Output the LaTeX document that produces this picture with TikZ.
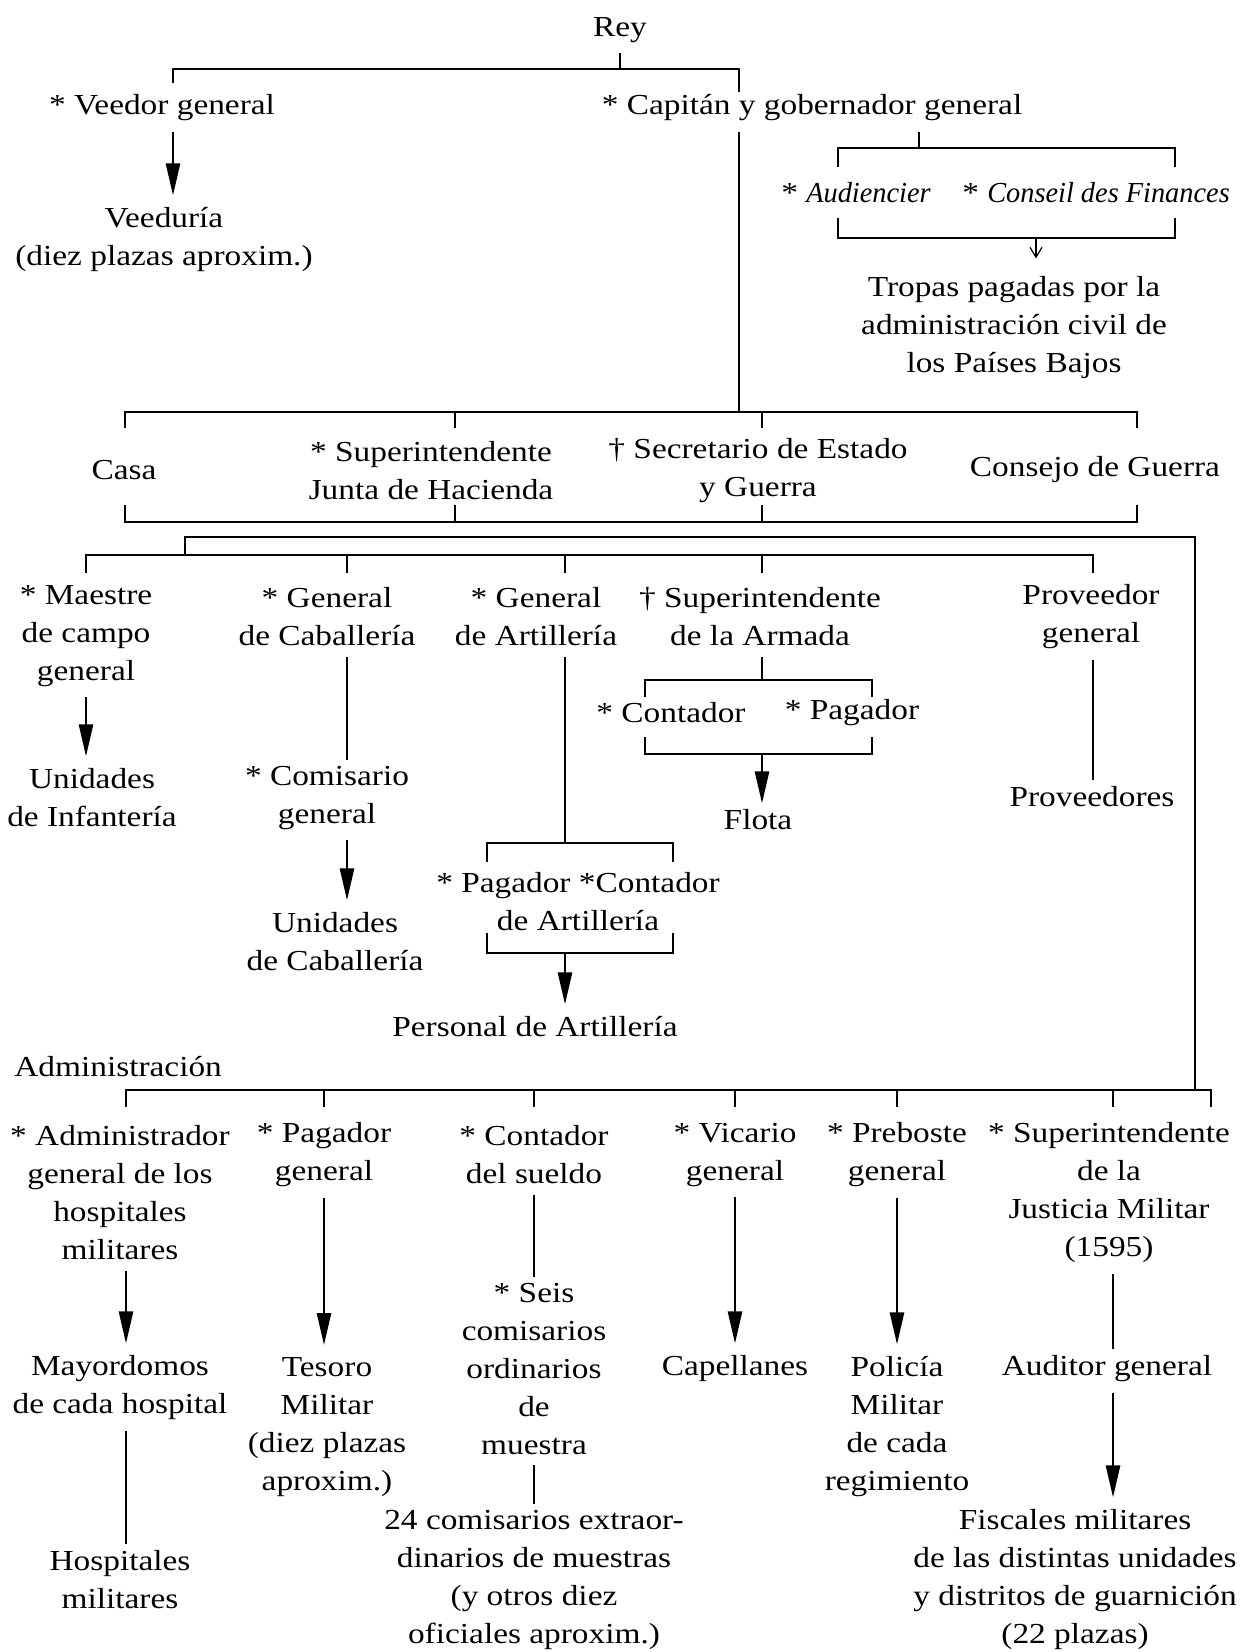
\documentclass[tikz,border=0pt]{standalone}
\usepackage{fontspec}
\setmainfont[FakeStretch=1.15]{Liberation Serif}
\usepackage{graphicx}
\usepackage{tikz}
\usetikzlibrary{arrows.meta}
\usetikzlibrary{calc}
\tikzset{
    office/.style={
        align=center,
        inner sep=1pt,
        font=\fontsize{14.5}{19}\selectfont
    },
    brk/.style={
        line width=1.3pt
    },
    tie/.style={
        brk,
        shorten <=4pt,
        shorten >=2pt
    },
    feed/.style={
        brk,
        -{Triangle[length=16pt, width=7pt]},
        shorten <=4pt,
        shorten >=5pt
    }
}
\newcommand{\narrowit}[1]{\scalebox{0.85}[1]{\textit{#1}}}

\begin{document}
\begin{tikzpicture}[x=0.5pt, y=-0.5pt]
    \useasboundingbox (0,0) rectangle (1242,1652);

    % Rey and first bracket
    \node[office] (rey) at (620,30) {Rey};
    \node[office] (veedor) at (162,108) {* Veedor general};
    \node[office] (capitan) at (812,108) {* Capitán y gobernador general};
    \node[office] (veeduria) at (164,240) {Veeduría\\(diez plazas aproxim.)};
    \coordinate (r0) at (620,69);
    \coordinate (r1) at (173,83);
    \coordinate (r2) at (739,92);
    \draw[brk, shorten <=4pt] (rey.south) -- (r0);
    \draw[brk] (r1) |- (r0) -| (r2);
    \draw[feed] (veedor.south -| r1) -- (veeduria.north -| r1);

    % Audiencier and Conseil des Finances
    \node[office] (audiencier) at (856,193) {* \narrowit{Audiencier}};
    \node[office] (conseil) at (1096,193) {* \narrowit{Conseil des Finances}};
    \node[office] (tropas) at (1014,328) {Tropas pagadas por la\\administración civil de\\los Países Bajos};
    \coordinate (a0) at (919,148);
    \coordinate (a1) at (838,167);
    \coordinate (a2) at (1175,167);
    \coordinate (a3) at (838,218);
    \coordinate (a4) at (1175,218);
    \coordinate (a5) at (1036,238);
    \draw[brk, shorten <=4pt] (capitan.south -| a0) -- (a0);
    \draw[brk] (a1) |- (a0) -| (a2);
    \draw[brk] (a3) |- (a5) -| (a4);
    \draw[line width=0.6pt, -{Straight Barb[length=5pt, width=6pt]}, shorten >=8pt] (a5) -- (a5 |- tropas.north);

    % Second level
    \node[office] (casa) at (124,470) {Casa};
    \node[office] (hacienda) at (431,471) {* Superintendente\\Junta de Hacienda};
    \node[office] (secretario) at (758,471) {† Secretario de Estado\\y Guerra};
    \node[office] (consejo) at (1095,470) {Consejo de Guerra};
    \coordinate (c0) at (739,412);
    \coordinate (c1) at (125,428);
    \coordinate (c2) at (455,428);
    \coordinate (c3) at (762,428);
    \coordinate (c4) at (1137,428);
    \draw[brk, shorten <=4pt] (capitan.south -| c0) -- (c0);
    \draw[brk] (c1) |- (c0) -| (c4);
    \draw[brk] (c2) -- (c2 |- c0);
    \draw[brk] (c3) -- (c3 |- c0);
    \coordinate (d0) at (640,522);
    \coordinate (d1) at (125,505);
    \coordinate (d2) at (455,505);
    \coordinate (d3) at (762,505);
    \coordinate (d4) at (1137,505);
    \draw[brk] (d1) |- (d0) -| (d4);
    \draw[brk] (d2) -- (d2 |- d0);
    \draw[brk] (d3) -- (d3 |- d0);

    % Outer line and third bracket
    \coordinate (e0) at (185,555);
    \coordinate (e1) at (1195,537);
    \coordinate (h0) at (1195,1090);
    \coordinate (f1) at (86,573);
    \coordinate (f2) at (347,573);
    \coordinate (f3) at (565,573);
    \coordinate (f4) at (762,573);
    \coordinate (f5) at (1093,573);
    \draw[brk] (e0) |- (e1) -- (h0);
    \draw[brk] (f1) |- (e0) -| (f5);
    \draw[brk] (f2) -- (f2 |- e0);
    \draw[brk] (f3) -- (f3 |- e0);
    \draw[brk] (f4) -- (f4 |- e0);

    % Third level
    \node[office] (maestre) at (86,636) {* Maestre\\de campo\\general};
    \node[office] (caballeria) at (327,617) {* General\\de Caballería};
    \node[office] (artilleria) at (536,617) {* General\\de Artillería};
    \node[office] (armada) at (760,617) {† Superintendente\\de la Armada};
    \node[office] (proveedor) at (1091,617) {Proveedor\\general};

    % Infantería
    \node[office] (infanteria) at (92,798) {Unidades\\de Infantería};
    \draw[feed] (maestre.south -| f1) -- (infanteria.north -| f1);

    % Caballería
    \node[office] (comisario) at (327,798) {* Comisario\\general};
    \node[office] (unicab) at (335,942) {Unidades\\de Caballería};
    \draw[tie] (caballeria.south -| f2) -- (comisario.north -| f2);
    \draw[feed] (comisario.south -| f2) -- (unicab.north -| f2);

    % Artillería
    \node[office] (pagart) at (578,902) {* Pagador *Contador\\de Artillería};
    \node[office] (personal) at (535,1027) {Personal de Artillería};
    \coordinate (p0) at (565,843);
    \coordinate (p1) at (487,862);
    \coordinate (p2) at (673,862);
    \coordinate (p3) at (487,933);
    \coordinate (p4) at (673,933);
    \coordinate (p5) at (565,953);
    \draw[brk, shorten <=4pt] (artilleria.south -| p0) -- (p0);
    \draw[brk] (p1) |- (p0) -| (p2);
    \draw[brk] (p3) |- (p5) -| (p4);
    \draw[feed, shorten <=0pt] (p5) -- (p5 |- personal.north);

    % Armada
    \node[office] (contador) at (671,713) {* Contador};
    \node[office] (pagador) at (852,713) {* Pagador};
    \node[office] (flota) at (758,820) {Flota};
    \coordinate (q0) at (762,680);
    \coordinate (q1) at (645,697);
    \coordinate (q2) at (872,697);
    \coordinate (q3) at (645,737);
    \coordinate (q4) at (872,737);
    \coordinate (q5) at (762,754);
    \draw[brk, shorten <=4pt] (armada.south -| q0) -- (q0);
    \draw[brk] (q1) |- (q0) -| (q2);
    \draw[brk] (q3) |- (q5) -| (q4);
    \draw[feed, shorten <=0pt, shorten >=2pt] (q5) -- (q5 |- flota.north);

    % Proveedores
    \node[office] (proveedores) at (1092,797) {Proveedores};
    \draw[tie] (proveedor.south -| f5) -- (proveedores.north -| f5);

    % Administración bracket
    \node[office, anchor=west] (admin) at (12,1067) {Administración};
    \coordinate (h1) at (126,1107);
    \coordinate (h2) at (324,1107);
    \coordinate (h3) at (534,1107);
    \coordinate (h4) at (735,1107);
    \coordinate (h5) at (897,1107);
    \coordinate (h6) at (1113,1107);
    \coordinate (h7) at (1211,1107);
    \draw[brk] (h1) |- (h0) -| (h7);
    \draw[brk] (h2) -- (h2 |- h0);
    \draw[brk] (h3) -- (h3 |- h0);
    \draw[brk] (h4) -- (h4 |- h0);
    \draw[brk] (h5) -- (h5 |- h0);
    \draw[brk] (h6) -- (h6 |- h0);

    % Administración offices
    \node[office] (administrador) at (120,1193) {* Administrador\\general de los\\hospitales\\militares};
    \node[office] (pagadorgen) at (324,1155) {* Pagador\\general};
    \node[office] (sueldo) at (534,1155) {* Contador\\del sueldo};
    \node[office] (vicario) at (735,1155) {* Vicario\\general};
    \node[office] (preboste) at (897,1155) {* Preboste\\general};
    \node[office] (justicia) at (1109,1193) {* Superintendente\\de la\\Justicia Militar\\(1595)};

    % Dependent posts
    \node[office] (mayordomos) at (120,1388) {Mayordomos\\de cada hospital};
    \node[office] (tesoro) at (327,1427) {Tesoro\\Militar\\(diez plazas\\aproxim.)};
    \node[office] (seis) at (534,1369) {* Seis\\comisarios\\ordinarios\\de\\muestra};
    \node[office] (capellanes) at (735,1369) {Capellanes};
    \node[office] (policia) at (897,1427) {Policía\\Militar\\de cada\\regimiento};
    \node[office] (auditor) at (1107,1369) {Auditor general};
    \node[office] (hospitales) at (120,1580) {Hospitales\\militares};
    \node[office] (extra) at (534,1580) {24 comisarios extraor-\\dinarios de muestras\\(y otros diez\\oficiales aproxim.)};
    \node[office] (fiscales) at (1075,1580) {Fiscales militares\\de las distintas unidades\\y distritos de guarnición\\(22 plazas)};

    \draw[feed] (administrador.south -| h1) -- (mayordomos.north -| h1);
    \draw[feed] (pagadorgen.south -| h2) -- (tesoro.north -| h2);
    \draw[tie] (sueldo.south -| h3) -- (seis.north -| h3);
    \draw[feed] (vicario.south -| h4) -- (capellanes.north -| h4);
    \draw[feed] (preboste.south -| h5) -- (policia.north -| h5);
    \draw[tie] (justicia.south -| h6) -- (auditor.north -| h6);
    \draw[tie] (mayordomos.south -| h1) -- (hospitales.north -| h1);
    \draw[tie] (seis.south -| h3) -- (extra.north -| h3);
    \draw[feed] (auditor.south -| h6) -- (fiscales.north -| h6);
\end{tikzpicture}
\end{document}
